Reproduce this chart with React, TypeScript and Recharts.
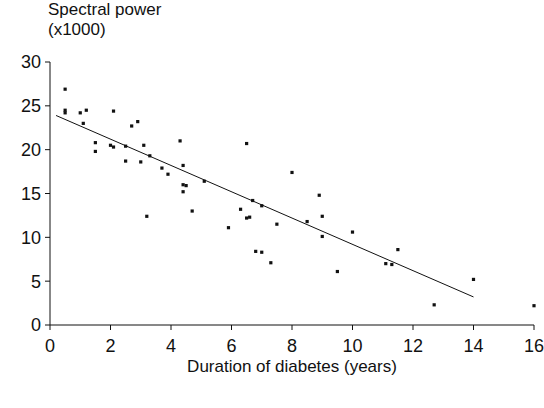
import React from 'react';
import {
  ScatterChart,
  Scatter,
  XAxis,
  YAxis,
  ReferenceLine,
  Label,
} from 'recharts';

// duration of diabetes (years)
const durationYears = [
  0.5, 0.5, 0.5, 1.0, 1.2, 1.1, 1.5, 1.5, 2.0, 2.1, 2.1, 2.5, 2.5, 2.7, 2.9, 3.0, 3.1, 3.3,
  3.2, 3.7, 3.9, 4.3, 4.4, 4.4, 4.5, 4.4, 4.7, 5.1, 5.9, 6.3, 6.5, 6.5, 6.6, 6.7, 7.0, 6.8,
  7.0, 7.3, 7.5, 8.0, 8.5, 8.9, 9.0, 9.0, 9.5, 10.0, 11.1, 11.3, 11.5, 12.7, 14.0, 16.0,
];

// spectral power (x1000)
const spectralPower = [
  26.9, 24.5, 24.2, 24.2, 24.5, 23.0, 20.8, 19.8, 20.5, 20.3, 24.4, 20.4, 18.7, 22.7, 23.2, 18.6, 20.5, 19.3,
  12.4, 17.9, 17.2, 21.0, 18.2, 16.0, 15.9, 15.2, 13.0, 16.4, 11.1, 13.2, 20.7, 12.2, 12.3, 14.2, 13.6, 8.4,
  8.3, 7.1, 11.5, 17.4, 11.8, 14.8, 12.4, 10.1, 6.1, 10.6, 7.0, 6.9, 8.6, 2.3, 5.2, 2.2,
];

// regression line end points
const fitX = [0.2, 14];
const fitY = [23.9, 3.2];

const xTicks = [0, 2, 4, 6, 8, 10, 12, 14, 16];
const yTicks = [0, 5, 10, 15, 20, 25, 30];

const points = durationYears.map((d, i) => ({ x: d, y: spectralPower[i] }));

const font = "'Liberation Sans', Arial, sans-serif";

const SquareDot = (props: any) => {
  const { cx, cy } = props;
  return <rect x={cx - 1.6} y={cy - 1.6} width={3.2} height={3.2} fill="#111" />;
};

export default function App() {
  return (
    <div style={{ position: 'absolute', left: 0, top: 0, width: 544, height: 408, background: '#fff', fontFamily: font }}>
      <div style={{ position: 'absolute', left: 48, top: 0, fontSize: 17, lineHeight: '20px', color: '#111' }}>
        Spectral power
        <br />
        (x1000)
      </div>
      <ScatterChart
        width={544}
        height={408}
        margin={{ top: 62, right: 10, bottom: 53, left: 10 }}
      >
        <XAxis
          type="number"
          dataKey="x"
          domain={[0, 16]}
          ticks={xTicks}
          interval={0}
          height={30}
          stroke="#111"
          tickSize={5}
          tickMargin={9}
          tick={{ fill: '#111', fontSize: 18, fontFamily: font }}
        >
          <Label
            value="Duration of diabetes (years)"
            position="insideBottom"
            offset={-17}
            style={{ fill: '#111', fontSize: 17, fontFamily: font }}
          />
        </XAxis>
        <YAxis
          type="number"
          dataKey="y"
          domain={[0, 30]}
          ticks={yTicks}
          interval={0}
          width={40}
          stroke="#111"
          tickSize={5}
          tickMargin={4}
          tick={{ fill: '#111', fontSize: 18, fontFamily: font }}
        />
        <ReferenceLine
          segment={[
            { x: fitX[0], y: fitY[0] },
            { x: fitX[1], y: fitY[1] },
          ]}
          stroke="#111"
          strokeWidth={1}
          ifOverflow="visible"
        />
        <Scatter data={points} shape={<SquareDot />} isAnimationActive={false} />
      </ScatterChart>
    </div>
  );
}
